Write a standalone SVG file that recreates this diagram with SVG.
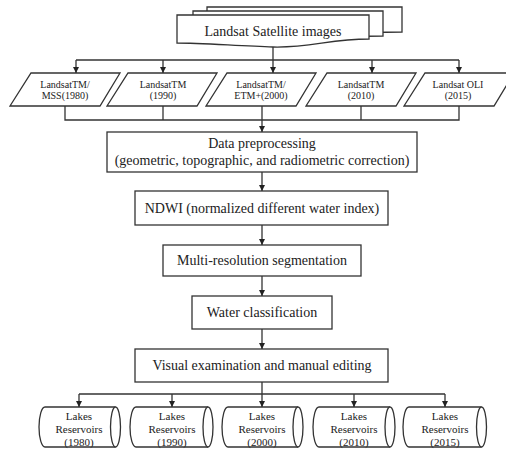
<svg xmlns="http://www.w3.org/2000/svg" width="506" height="450" viewBox="0 0 506 450">
<defs>
<style>
.s{fill:#fff;stroke:#333;stroke-width:1.3}
.c{fill:none;stroke:#333;stroke-width:1.3}
.t{font-family:"Liberation Serif","Times New Roman",serif;fill:#222;text-anchor:middle}
.t14{font-size:14px}
.t10{font-size:10px}
.t11{font-size:11px}
</style>
<marker id="ah" viewBox="0 0 10 10" refX="10" refY="5" markerWidth="6" markerHeight="6" markerUnits="userSpaceOnUse" orient="auto">
<path d="M0,0 L10,5 L0,10 z" fill="#222"/>
</marker>
</defs>
<rect width="506" height="450" fill="#fff"/>

<g id="landsat-images">
<path class="s" d="M207,7 H402 V32 C370,32 340,34 310,33 C280,33 240,33 207,33 Z"/>
<path class="s" d="M193,11 H383 V36 C350,36 320,38 290,37 C260,37 220,37 193,37 Z"/>
<path class="s" d="M177,15 H369 V39 C330,39 310,48 273,47 C240,46 200,43 177,43 Z"/>
<text class="t t14" x="273" y="36">Landsat Satellite images</text>
</g>

<g id="p1980">
<path class="s" d="M31,73 H120 L100,106 H10 Z"/>
<text class="t t10" x="65" y="88">LandsatTM/</text>
<text class="t t10" x="65" y="99">MSS(1980)</text>
</g>
<g id="p1990">
<path class="s" d="M128,73 H217 L197,106 H107 Z"/>
<text class="t t10" x="163" y="88">LandsatTM</text>
<text class="t t10" x="163" y="99">(1990)</text>
</g>
<g id="p2000">
<path class="s" d="M227,73 H316 L296,106 H206 Z"/>
<text class="t t10" x="261" y="88">LandsatTM/</text>
<text class="t t10" x="261" y="99">ETM+(2000)</text>
</g>
<g id="p2010">
<path class="s" d="M327,73 H416 L396,106 H306 Z"/>
<text class="t t10" x="361" y="88">LandsatTM</text>
<text class="t t10" x="361" y="99">(2010)</text>
</g>
<g id="p2015">
<path class="s" d="M425,73 H514 L494,106 H404 Z"/>
<text class="t t10" x="458" y="88">Landsat OLI</text>
<text class="t t10" x="458" y="99">(2015)</text>
</g>

<g id="preprocessing">
<rect class="s" x="107" y="132" width="310" height="40"/>
<text class="t t14" x="262" y="148">Data preprocessing</text>
<text class="t t14" x="262" y="165">(geometric, topographic, and radiometric correction)</text>
</g>
<g id="ndwi">
<rect class="s" x="135" y="191" width="253" height="34"/>
<text class="t t14" x="262" y="213">NDWI (normalized different water index)</text>
</g>
<g id="segmentation">
<rect class="s" x="163" y="245" width="198" height="31"/>
<text class="t t14" x="262" y="265">Multi-resolution segmentation</text>
</g>
<g id="classification">
<rect class="s" x="192" y="296" width="140" height="33"/>
<text class="t t14" x="262" y="317">Water classification</text>
</g>
<g id="editing">
<rect class="s" x="135" y="349" width="253" height="33"/>
<text class="t t14" x="262" y="370">Visual examination and manual editing</text>
</g>

<g id="r1980">
<path class="s" d="M115.5,407 H45 A6,20 0 0 0 45,447 H115.5"/>
<ellipse class="s" cx="115.5" cy="427" rx="5" ry="20"/>
<text class="t t11" x="79" y="420">Lakes</text>
<text class="t t11" x="79" y="433">Reservoirs</text>
<text class="t t11" x="79" y="446">(1980)</text>
</g>
<g id="r1990">
<path class="s" d="M208,407 H136 A6,20 0 0 0 136,447 H208"/>
<ellipse class="s" cx="208" cy="427" rx="5" ry="20"/>
<text class="t t11" x="172" y="420">Lakes</text>
<text class="t t11" x="172" y="433">Reservoirs</text>
<text class="t t11" x="172" y="446">(1990)</text>
</g>
<g id="r2000">
<path class="s" d="M298,407 H228 A6,20 0 0 0 228,447 H298"/>
<ellipse class="s" cx="298" cy="427" rx="5" ry="20"/>
<text class="t t11" x="262" y="420">Lakes</text>
<text class="t t11" x="262" y="433">Reservoirs</text>
<text class="t t11" x="262" y="446">(2000)</text>
</g>
<g id="r2010">
<path class="s" d="M390,407 H319 A6,20 0 0 0 319,447 H390"/>
<ellipse class="s" cx="390" cy="427" rx="5" ry="20"/>
<text class="t t11" x="354" y="420">Lakes</text>
<text class="t t11" x="354" y="433">Reservoirs</text>
<text class="t t11" x="354" y="446">(2010)</text>
</g>
<g id="r2015">
<path class="s" d="M481.5,407 H409 A6,20 0 0 0 409,447 H481.5"/>
<ellipse class="s" cx="481.5" cy="427" rx="5" ry="20"/>
<text class="t t11" x="445" y="420">Lakes</text>
<text class="t t11" x="445" y="433">Reservoirs</text>
<text class="t t11" x="445" y="446">(2015)</text>
</g>

<g id="connectors">
<path class="c" d="M76,60 H459"/>
<path class="c" d="M273,47 V73" marker-end="url(#ah)"/>
<path class="c" d="M76,60 V73" marker-end="url(#ah)"/>
<path class="c" d="M163,60 V73" marker-end="url(#ah)"/>
<path class="c" d="M372,60 V73" marker-end="url(#ah)"/>
<path class="c" d="M459,60 V73" marker-end="url(#ah)"/>
<path class="c" d="M65,106 V120 H459 V106"/>
<path class="c" d="M163,106 V120"/>
<path class="c" d="M361,106 V120"/>
<path class="c" d="M262,106 V132" marker-end="url(#ah)"/>
<path class="c" d="M262,172 V191" marker-end="url(#ah)"/>
<path class="c" d="M262,225 V245" marker-end="url(#ah)"/>
<path class="c" d="M262,276 V296" marker-end="url(#ah)"/>
<path class="c" d="M262,329 V349" marker-end="url(#ah)"/>
<path class="c" d="M262,382 V407" marker-end="url(#ah)"/>
<path class="c" d="M79,394 H445"/>
<path class="c" d="M79,394 V407" marker-end="url(#ah)"/>
<path class="c" d="M172,394 V407" marker-end="url(#ah)"/>
<path class="c" d="M354,394 V407" marker-end="url(#ah)"/>
<path class="c" d="M445,394 V407" marker-end="url(#ah)"/>
</g>
</svg>
